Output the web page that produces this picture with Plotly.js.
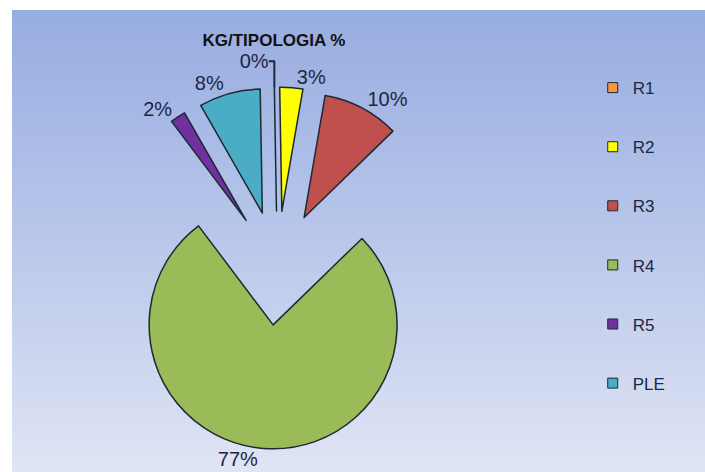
<!DOCTYPE html>
<html>
<head>
<meta charset="utf-8">
<script src="https://cdn.plot.ly/plotly-3.0.1.min.js"></script>
<style>
  html, body { margin: 0; padding: 0; background: #ffffff; width: 705px; height: 472px; overflow: hidden; }
  #chart {
    position: absolute; left: 12px; top: 10px; width: 693px; height: 462px;
    background: linear-gradient(to bottom, #97ace0 0%, #b9c7ea 50%, #e0e5f5 100%);
  }
</style>
</head>
<body>
<div id="chart"></div>
<script>
// Data
var categories = ["R1", "R2", "R3", "R4", "R5", "PLE"];
var percentValues = [0, 3, 10, 77, 2, 8];
var sliceColors = ["#f79646", "#ffff00", "#c0504d", "#9bbb59", "#7030a0", "#4bacc6"];
var chartTitle = "KG/TIPOLOGIA %";

var traces = [{
  type: "pie",
  labels: categories,
  values: percentValues,
  sort: false,
  direction: "clockwise",
  rotation: -1,
  pull: 0.46,
  marker: { colors: sliceColors, line: { color: "#1c2a30", width: 1.5 } },
  textinfo: "percent",
  textposition: "outside",
  outsidetextfont: { family: "Liberation Sans, Arial, sans-serif", size: 20, color: "#1d2743" },
  showlegend: false,
  hoverinfo: "label+percent",
  domain: { x: [0.1219, 0.6443], y: [0.0498, 0.8333] }
}];

categories.forEach(function (c, i) {
  traces.push({
    type: "scatter",
    mode: "markers",
    x: [null], y: [null],
    name: c,
    legendgroup: "g" + i,
    marker: { symbol: "square", size: 10, color: sliceColors[i], line: { color: "#1c2a30", width: 1 } },
    showlegend: true,
    hoverinfo: "skip"
  });
});

var layout = {
  width: 693, height: 462,
  margin: { l: 0, r: 0, t: 0, b: 0 },
  paper_bgcolor: "rgba(0,0,0,0)",
  plot_bgcolor: "rgba(0,0,0,0)",
  title: {
    text: "<b>" + chartTitle + "</b>",
    x: 0.378, xanchor: "center", xref: "paper",
    y: 0.935, yanchor: "middle", yref: "container",
    font: { family: "Liberation Sans, Arial, sans-serif", size: 17, color: "#111111" }
  },
  xaxis: { visible: false, domain: [0.9, 1] },
  yaxis: { visible: false, domain: [0.9, 1] },
  showlegend: true,
  legend: {
    x: 0.838, xanchor: "left",
    y: 0.87, yanchor: "top",
    bgcolor: "rgba(0,0,0,0)",
    tracegroupgap: 34,
    itemwidth: 30,
    font: { family: "Liberation Sans, Arial, sans-serif", size: 17, color: "#1d2743" }
  }
};

Plotly.newPlot("chart", traces, layout, { displayModeBar: false, staticPlot: true });
</script>
</body>
</html>
